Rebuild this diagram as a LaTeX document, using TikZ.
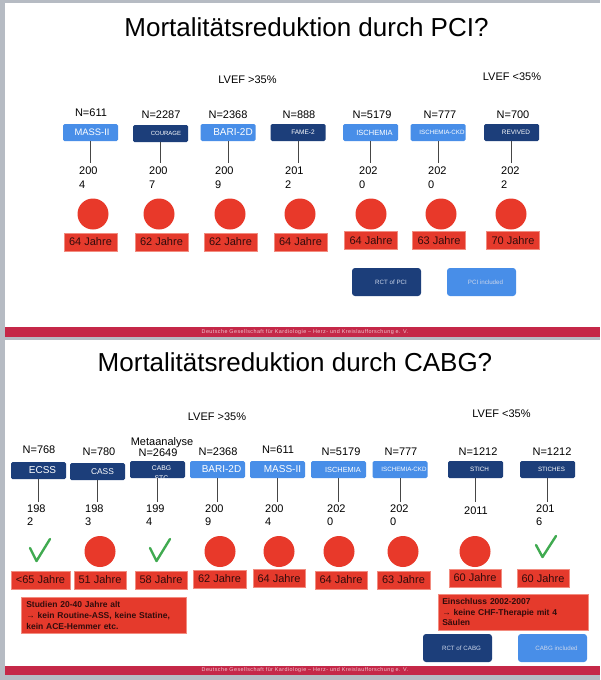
\documentclass[tikz,border=0pt]{standalone}
\usepackage{fontspec}
\setmainfont{Liberation Sans}
\newfontfamily\footfont[LetterSpace=8]{Liberation Sans}
\definecolor{bggray}{RGB}{182,187,195}
\definecolor{lblue}{RGB}{72,142,232}
\definecolor{navy}{RGB}{28,62,122}
\definecolor{dotred}{RGB}{232,57,42}
\definecolor{agered}{RGB}{229,58,44}
\definecolor{ageborder}{RGB}{242,140,128}
\definecolor{agetext}{RGB}{50,12,12}
\definecolor{okgreen}{RGB}{64,170,80}
\definecolor{footred}{RGB}{197,40,72}
\definecolor{foottext}{RGB}{240,200,210}
\definecolor{legtext}{RGB}{205,215,235}
\definecolor{stemgray}{RGB}{70,70,70}
\newcommand\fsz[2]{\fontsize{#1}{#2}\selectfont}
\tikzset{
  trial/.style={rounded corners=1.5pt, minimum width=55pt, minimum height=17pt, inner sep=0pt, text=white},
  lighttrial/.style={trial, fill=lblue},
  darktrial/.style={trial, fill=navy},
  ttl/.style={font=\fsz{26}{30}, inner sep=0pt, text=black},
  lvef/.style={font=\fsz{11}{13}, inner sep=0pt},
  ntext/.style={font=\fsz{11}{13}, inner sep=0pt},
  yeartop/.style={font=\fsz{11}{14}, inner sep=0pt, align=left, anchor=north west},
  yearbot/.style={font=\fsz{11}{13}, inner sep=0pt, align=left, anchor=north west},
  stem/.style={draw=stemgray, line width=0.9pt},
  dot/.style={circle, fill=dotred, minimum size=31pt, inner sep=0pt},
  agebox/.style={fill=agered, draw=ageborder, line width=0.6pt, minimum height=18pt, inner sep=0pt, text=agetext, font=\fsz{11}{13}},
  note/.style={fill=agered, draw=ageborder, line width=0.6pt, anchor=north west, inner ysep=0pt, align=left, text=agetext},
  okmark/.style={draw=okgreen, line width=2.4pt, line cap=round, line join=round},
  legbox/.style={rounded corners=3pt, minimum width=69pt, minimum height=28pt, inner sep=0pt, text=legtext, font=\fsz{6.2}{7}},
  foot/.style={font=\footfont\fsz{5.4}{6}, text=foottext, inner sep=0pt}
}
\begin{document}
\begin{tikzpicture}[x=1pt, y=-1pt]
\useasboundingbox (0,0) rectangle (600,680);
% background and slides
\fill[bggray] (0,0) rectangle (600,680);
\fill[white] (5,3) rectangle (600,327);
\fill[footred] (5,327) rectangle (600,337);
\fill[white] (5,340) rectangle (600,666);
\fill[footred] (5,666) rectangle (600,675);
\node[foot] (f1) at (305,332) {Deutsche Gesellschaft für Kardiologie – Herz- und Kreislaufforschung e. V.};
\node[foot] (f2) at (305,670.5) {Deutsche Gesellschaft für Kardiologie – Herz- und Kreislaufforschung e. V.};

% ================= TOP SLIDE =================
\node[ttl] (t1) at (306.5,27) {Mortalitätsreduktion durch PCI?};
\node[lvef] (lv1) at (247.5,80) {LVEF >35\%};
\node[lvef] (lv2) at (512,77) {LVEF <35\%};

\node[ntext] (n1) at (91,113) {N=611};
\node[ntext] (n2) at (161,115) {N=2287};
\node[ntext] (n3) at (228,115) {N=2368};
\node[ntext] (n4) at (299,115) {N=888};
\node[ntext] (n5) at (372,115) {N=5179};
\node[ntext] (n6) at (440,115) {N=777};
\node[ntext] (n7) at (513,115) {N=700};

\node[lighttrial, font=\fsz{9.4}{11}] (b1) at (90.5,132.5) {\hspace*{3pt}MASS-II};
\node[darktrial, font=\fsz{6}{7}] (b2) at (160.5,133.5) {\hspace*{11pt}COURAGE};
\node[lighttrial, font=\fsz{10}{11}] (b3) at (228,132.5) {\hspace*{10pt}BARI-2D};
\node[darktrial, font=\fsz{6.5}{7}] (b4) at (298,132.5) {\hspace*{10pt}FAME-2};
\node[lighttrial, font=\fsz{7.5}{8}] (b5) at (370.5,132.5) {\hspace*{8pt}ISCHEMIA};
\node[lighttrial, font=\fsz{6.2}{7}] (b6) at (438,132.5) {\hspace*{8pt}ISCHEMIA-CKD};
\node[darktrial, font=\fsz{6.4}{7}] (b7) at (511.5,132.5) {\hspace*{9pt}REVIVED};

\foreach \i in {1,...,7} {
  \coordinate (e\i) at (b\i.south |- 0,163);
  \draw[stem] (b\i.south) -- (e\i);
}

\node[yeartop] (y1) at (79,166.5) {200\\4};
\node[yeartop] (y2) at (149,166.5) {200\\7};
\node[yeartop] (y3) at (215,166.5) {200\\9};
\node[yeartop] (y4) at (285,166.5) {201\\2};
\node[yeartop] (y5) at (359,166.5) {202\\0};
\node[yeartop] (y6) at (428,166.5) {202\\0};
\node[yeartop] (y7) at (501,166.5) {202\\2};

\node[dot] (d1) at (93,214) {};
\node[dot] (d2) at (159,214) {};
\node[dot] (d3) at (230,214) {};
\node[dot] (d4) at (300,214) {};
\node[dot] (d5) at (371,214) {};
\node[dot] (d6) at (441,214) {};
\node[dot] (d7) at (511,214) {};

\node[agebox, minimum width=53pt] (a1) at (90.5,242) {64 Jahre};
\node[agebox, minimum width=53pt] (a2) at (161.5,242) {62 Jahre};
\node[agebox, minimum width=53pt] (a3) at (230.5,242) {62 Jahre};
\node[agebox, minimum width=53pt] (a4) at (300.5,242) {64 Jahre};
\node[agebox, minimum width=53pt] (a5) at (371,240.5) {64 Jahre};
\node[agebox, minimum width=53pt] (a6) at (439,240.5) {63 Jahre};
\node[agebox, minimum width=53pt] (a7) at (513,240.5) {70 Jahre};

\node[legbox, fill=navy] (leg1) at (386.5,282) {\hspace*{9pt}RCT of PCI};
\node[legbox, fill=lblue] (leg2) at (481.5,282) {\hspace*{8pt}PCI included};

% ================= BOTTOM SLIDE =================
\node[ttl] (t2) at (295,362) {Mortalitätsreduktion durch CABG?};
\node[lvef] (lv3) at (217,417) {LVEF >35\%};
\node[lvef] (lv4) at (501.5,414) {LVEF <35\%};
\node[ntext] (meta) at (162,443) {Metaanalyse};

\node[ntext] (m1) at (39,450) {N=768};
\node[ntext] (m2) at (99,452) {N=780};
\node[ntext] (m3) at (158,452.5) {N=2649};
\node[ntext] (m4) at (218,452) {N=2368};
\node[ntext] (m5) at (278,450) {N=611};
\node[ntext] (m6) at (341,452) {N=5179};
\node[ntext] (m7) at (401,452) {N=777};
\node[ntext] (m8) at (478,452) {N=1212};
\node[ntext] (m9) at (552,452) {N=1212};

\node[darktrial, font=\fsz{10}{11}] (c1) at (38.5,470.5) {\hspace*{8pt}ECSS};
\node[darktrial, font=\fsz{8.4}{9}] (c2) at (97.5,471.5) {\hspace*{10pt}CASS};
\node[darktrial] (c3) at (157.5,469.5) {};
\node[lighttrial, font=\fsz{10}{11}] (c4) at (217.5,469.5) {\hspace*{8pt}BARI-2D};
\node[lighttrial, font=\fsz{10}{11}] (c5) at (277.5,469.5) {\hspace*{10pt}MASS-II};
\node[lighttrial, font=\fsz{7.4}{8}] (c6) at (338.5,469.5) {\hspace*{9pt}ISCHEMIA};
\node[lighttrial, font=\fsz{6.2}{7}] (c7) at (400,469.5) {\hspace*{8pt}ISCHEMIA-CKD};
\node[darktrial, font=\fsz{6.3}{7}] (c8) at (475.5,469.5) {\hspace*{8pt}STICH};
\node[darktrial, font=\fsz{6.2}{7}] (c9) at (547.5,469.5) {\hspace*{8pt}STICHES};
\begin{scope}
  \clip (c3.south west) rectangle (c3.north east);
  \node[text=white, font=\fsz{6.8}{10.5}, align=center, inner sep=0pt] (c3t) at ([xshift=4pt, yshift=-3.5pt]c3.center) {CABG\\STC};
\end{scope}

\foreach \i in {1,...,9} {
  \coordinate (g\i) at (c\i.south |- 0,502);
  \draw[stem] (c\i.south) -- (g\i);
}

\node[yearbot] (z1) at (27,505) {198\\2};
\node[yearbot] (z2) at (85,505) {198\\3};
\node[yearbot] (z3) at (146,505) {199\\4};
\node[yearbot] (z4) at (205,505) {200\\9};
\node[yearbot] (z5) at (265,505) {200\\4};
\node[yearbot] (z6) at (327,505) {202\\0};
\node[yearbot] (z7) at (390,505) {202\\0};
\node[ntext] (z8) at (476,511) {2011};
\node[yearbot] (z9) at (536,505) {201\\6};

\coordinate (k1) at (36.5,561);
\draw[okmark] (30,548) -- (k1) -- (50,539);
\node[dot] (p2) at (100,551.5) {};
\coordinate (k3) at (156.5,561);
\draw[okmark] (150,548) -- (k3) -- (170,539);
\node[dot] (p4) at (220,551.5) {};
\node[dot] (p5) at (279,551.5) {};
\node[dot] (p6) at (339,551.5) {};
\node[dot] (p7) at (403,551.5) {};
\node[dot] (p8) at (475,551.5) {};
\coordinate (k9) at (542.5,557);
\draw[okmark] (536,545) -- (k9) -- (556,536);

\node[agebox, minimum width=59pt] (q1) at (40.5,580) {<65 Jahre};
\node[agebox, minimum width=52pt] (q2) at (100,580) {51 Jahre};
\node[agebox, minimum width=52pt] (q3) at (161,580) {58 Jahre};
\node[agebox, minimum width=53pt] (q4) at (219.5,579) {62 Jahre};
\node[agebox, minimum width=52pt] (q5) at (279,578.7) {64 Jahre};
\node[agebox, minimum width=52pt] (q6) at (341,580) {64 Jahre};
\node[agebox, minimum width=53pt] (q7) at (403.5,580) {63 Jahre};
\node[agebox, minimum width=52pt] (q8) at (475,578) {60 Jahre};
\node[agebox, minimum width=52pt] (q9) at (543,578.5) {60 Jahre};

\node[note, text width=155pt, inner xsep=5pt, minimum height=36pt, font=\bfseries\fsz{8.5}{11.3}] (note1) at (21,597)
  {Studien 20-40 Jahre alt\\→ kein Routine-ASS, keine Statine,\\kein ACE-Hemmer etc.};
\node[note, text width=142pt, inner xsep=4pt, minimum height=36pt, font=\bfseries\fsz{8.5}{10.4}] (note2) at (438,594)
  {Einschluss 2002-2007\\→ keine CHF-Therapie mit 4\\Säulen};

\node[legbox, fill=navy] (leg3) at (457.5,648) {\hspace*{8pt}RCT of CABG};
\node[legbox, fill=lblue] (leg4) at (552.5,648) {\hspace*{8pt}CABG included};
\end{tikzpicture}
\end{document}
